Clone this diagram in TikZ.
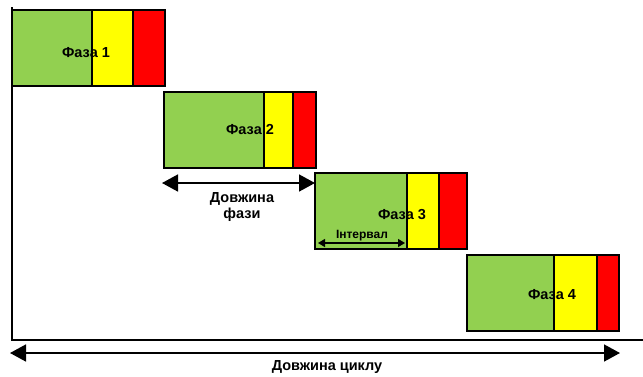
\documentclass[tikz,border=0pt]{standalone}
\usepackage{fontspec}
\setmainfont{Liberation Sans}
\usetikzlibrary{arrows.meta}
\definecolor{pgreen}{HTML}{92D050}
\definecolor{pyellow}{HTML}{FFFF00}
\definecolor{pred}{HTML}{FF0000}
\begin{document}
\begin{tikzpicture}[x=1pt,y=-1pt,
  seg/.style={draw=black,line width=1.6pt,minimum height=76pt,inner sep=0pt,outer sep=0pt,anchor=north west},
  gseg/.style={seg,fill=pgreen},
  yseg/.style={seg,fill=pyellow},
  rseg/.style={seg,fill=pred},
  plabel/.style={font=\fontsize{14.5}{16}\selectfont\bfseries,inner sep=0pt},
  dlabel/.style={font=\fontsize{14.5}{16.5}\selectfont\bfseries,align=center,inner sep=0pt},
  ilabel/.style={font=\fontsize{12}{14}\selectfont\bfseries,inner sep=0pt},
  dim/.style={line width=1.6pt,{Triangle[length=16pt,width=17pt]}-{Triangle[length=16pt,width=17pt]}},
  smalldim/.style={line width=1.3pt,{Triangle[length=7pt,width=8pt]}-{Triangle[length=7pt,width=8pt]}},
  axis/.style={line width=1.6pt}]
\useasboundingbox (0,0) rectangle (643,376);
\fill[white] (0,0) rectangle (643,376);
% axes
\coordinate (axtop) at (12,7);
\coordinate (axorig) at (12,340);
\coordinate (axend) at (643,340);
\draw[axis] (axtop) -- (axorig) -- (axend);
% phase 1
\node[gseg,minimum width=80pt] (g1) at (12,10) {};
\node[yseg,minimum width=41pt] (y1) at (92,10) {};
\node[rseg,minimum width=32pt] (r1) at (133,10) {};
\node[plabel] (l1) at (86,53) {Фаза 1};
% phase 2
\node[gseg,minimum width=100pt] (g2) at (164,92) {};
\node[yseg,minimum width=29pt] (y2) at (264,92) {};
\node[rseg,minimum width=23pt] (r2) at (293,92) {};
\node[plabel] (l2) at (250,130) {Фаза 2};
% phase 3
\node[gseg,minimum width=92pt] (g3) at (315,173) {};
\node[yseg,minimum width=32pt] (y3) at (407,173) {};
\node[rseg,minimum width=28pt] (r3) at (439,173) {};
\node[plabel] (l3) at (402,215) {Фаза 3};
% phase 4
\node[gseg,minimum width=87pt] (g4) at (467,255) {};
\node[yseg,minimum width=43pt] (y4) at (554,255) {};
\node[rseg,minimum width=22pt] (r4) at (597,255) {};
\node[plabel] (l4) at (552,295) {Фаза 4};
% phase length
\coordinate (pla) at (162,183);
\coordinate (plb) at (315,183);
\draw[dim] (pla) -- (plb);
\node[dlabel] (dl) at (242,207) {Довжина\\фази};
% interval
\coordinate (ia) at (318,243);
\coordinate (ib) at (405,243);
\draw[smalldim] (ia) -- (ib);
\node[ilabel] (il) at (362,236) {Інтервал};
% cycle
\coordinate (ca) at (10,353);
\coordinate (cb) at (620,353);
\draw[dim] (ca) -- (cb);
\node[dlabel] (cl) at (327,367) {Довжина циклу};
\end{tikzpicture}
\end{document}
